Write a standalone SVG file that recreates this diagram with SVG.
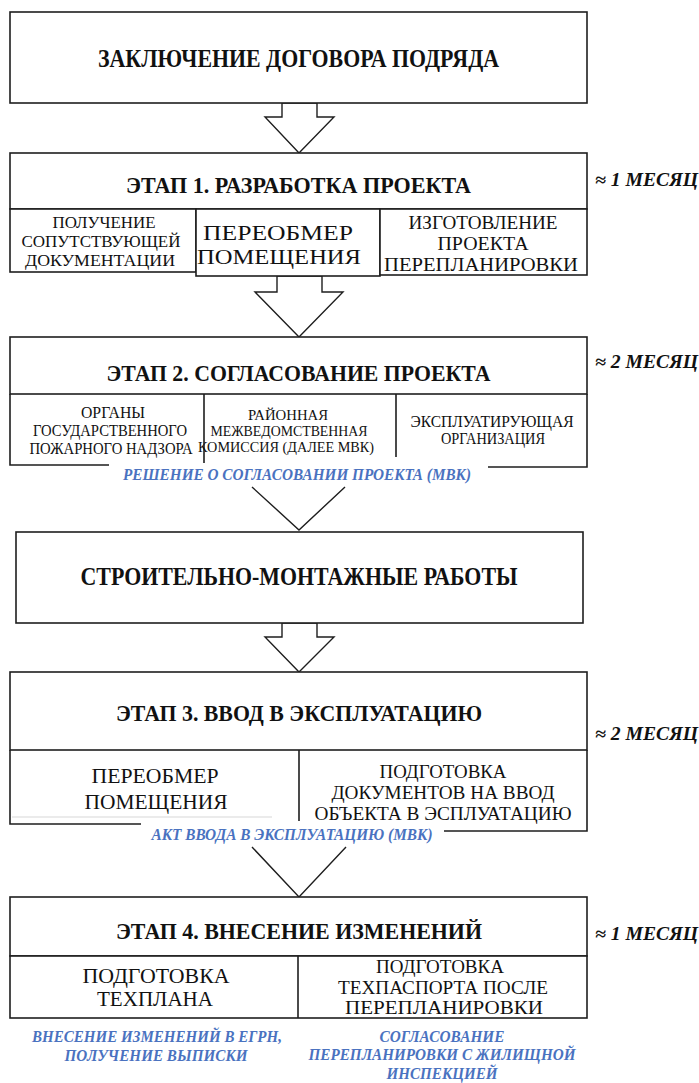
<svg xmlns="http://www.w3.org/2000/svg" width="699" height="1083" viewBox="0 0 699 1083">
<style>
.box{fill:#fff;stroke:#1e1e1e;stroke-width:1.6}
.ln{fill:none;stroke:#1e1e1e;stroke-width:1.6}
.arr{fill:#fff;stroke:#1e1e1e;stroke-width:1.4}
.v{fill:none;stroke:#1e1e1e;stroke-width:1.4}
</style>
<rect width="699" height="1083" fill="#fff"/>
<g id="connectors">
<polygon class="arr" points="282,103 317,103 317,117 334,117 299,153 265,117 282,117"/>
<polygon class="arr" points="277,276 322,276 322,292 343,292 299,337 255,292 277,292"/>
<polyline class="v" points="252,487 299,530 345,487"/>
<polygon class="arr" points="282,623 317,623 317,637 334,637 299,672 265,637 282,637"/>
<polyline class="v" points="252,847 299,897 346,847"/>
</g>
<g id="contract">
<rect class="box" x="10" y="12" width="577" height="91"/>
<text style="font-family:'Liberation Serif'" font-family="Liberation Serif" font-weight="bold" fill="#111" text-anchor="middle" x="298.5" y="67" font-size="25" textLength="401" lengthAdjust="spacingAndGlyphs">ЗАКЛЮЧЕНИЕ ДОГОВОРА ПОДРЯДА</text>
</g>
<g id="stage1">
<rect class="box" x="10" y="153" width="577" height="56"/>
<text style="font-family:'Liberation Serif'" font-family="Liberation Serif" font-weight="bold" fill="#111" text-anchor="middle" x="298.5" y="193" font-size="24" textLength="345" lengthAdjust="spacingAndGlyphs">ЭТАП 1. РАЗРАБОТКА ПРОЕКТА</text>
<text style="font-family:'Liberation Serif'" font-family="Liberation Serif" font-weight="bold" font-style="italic" fill="#111" x="595" y="186" font-size="18" textLength="103" lengthAdjust="spacingAndGlyphs">≈ 1 МЕСЯЦ</text>
</g>
<g id="s1a">
<rect class="box" x="10" y="209" width="186" height="63"/>
<text style="font-family:'Liberation Serif'" font-family="Liberation Serif" fill="#111" text-anchor="middle" x="104" y="228" font-size="17" textLength="103" lengthAdjust="spacingAndGlyphs">ПОЛУЧЕНИЕ</text>
<text style="font-family:'Liberation Serif'" font-family="Liberation Serif" fill="#111" text-anchor="middle" x="101" y="247" font-size="17" textLength="159" lengthAdjust="spacingAndGlyphs">СОПУТСТВУЮЩЕЙ</text>
<text style="font-family:'Liberation Serif'" font-family="Liberation Serif" fill="#111" text-anchor="middle" x="100" y="266" font-size="17" textLength="150" lengthAdjust="spacingAndGlyphs">ДОКУМЕНТАЦИИ</text>
</g>
<g id="s1b">
<rect class="box" x="196" y="209" width="184" height="67"/>
<text style="font-family:'Liberation Serif'" font-family="Liberation Serif" fill="#111" text-anchor="middle" x="278" y="240" font-size="22" textLength="150" lengthAdjust="spacingAndGlyphs">ПЕРЕОБМЕР</text>
<text style="font-family:'Liberation Serif'" font-family="Liberation Serif" fill="#111" text-anchor="middle" x="279" y="264" font-size="22" textLength="164" lengthAdjust="spacingAndGlyphs">ПОМЕЩЕНИЯ</text>
</g>
<g id="s1c">
<rect class="box" x="380" y="209" width="207" height="66"/>
<text style="font-family:'Liberation Serif'" font-family="Liberation Serif" fill="#111" text-anchor="middle" x="483" y="229" font-size="19" textLength="149" lengthAdjust="spacingAndGlyphs">ИЗГОТОВЛЕНИЕ</text>
<text style="font-family:'Liberation Serif'" font-family="Liberation Serif" fill="#111" text-anchor="middle" x="483" y="250" font-size="19" textLength="91" lengthAdjust="spacingAndGlyphs">ПРОЕКТА</text>
<text style="font-family:'Liberation Serif'" font-family="Liberation Serif" fill="#111" text-anchor="middle" x="481" y="271" font-size="19" textLength="194" lengthAdjust="spacingAndGlyphs">ПЕРЕПЛАНИРОВКИ</text>
</g>
<g id="stage2">
<rect class="box" x="10" y="337" width="577" height="57"/>
<text style="font-family:'Liberation Serif'" font-family="Liberation Serif" font-weight="bold" fill="#111" text-anchor="middle" x="298.5" y="381" font-size="24" textLength="384" lengthAdjust="spacingAndGlyphs">ЭТАП 2. СОГЛАСОВАНИЕ ПРОЕКТА</text>
<text style="font-family:'Liberation Serif'" font-family="Liberation Serif" font-weight="bold" font-style="italic" fill="#111" x="595" y="368" font-size="18" textLength="103" lengthAdjust="spacingAndGlyphs">≈ 2 МЕСЯЦ</text>
<path class="ln" d="M10 394 V465 H109 M488 467 H587 V394 M204 394 V463 M396 394 V457"/>
</g>
<g id="s2a">
<text style="font-family:'Liberation Serif'" font-family="Liberation Serif" fill="#111" text-anchor="middle" x="113" y="418" font-size="16" textLength="64" lengthAdjust="spacingAndGlyphs">ОРГАНЫ</text>
<text style="font-family:'Liberation Serif'" font-family="Liberation Serif" fill="#111" text-anchor="middle" x="110" y="436" font-size="16" textLength="154" lengthAdjust="spacingAndGlyphs">ГОСУДАРСТВЕННОГО</text>
<text style="font-family:'Liberation Serif'" font-family="Liberation Serif" fill="#111" text-anchor="middle" x="111" y="454" font-size="16" textLength="163" lengthAdjust="spacingAndGlyphs">ПОЖАРНОГО НАДЗОРА</text>
</g>
<g id="s2b">
<text style="font-family:'Liberation Serif'" font-family="Liberation Serif" fill="#111" text-anchor="middle" x="288" y="420" font-size="15" textLength="80" lengthAdjust="spacingAndGlyphs">РАЙОННАЯ</text>
<text style="font-family:'Liberation Serif'" font-family="Liberation Serif" fill="#111" text-anchor="middle" x="289" y="436" font-size="15" textLength="157" lengthAdjust="spacingAndGlyphs">МЕЖВЕДОМСТВЕННАЯ</text>
<text style="font-family:'Liberation Serif'" font-family="Liberation Serif" fill="#111" text-anchor="middle" x="286" y="452" font-size="15" textLength="176" lengthAdjust="spacingAndGlyphs">КОМИССИЯ (ДАЛЕЕ МВК)</text>
</g>
<g id="s2c">
<text style="font-family:'Liberation Serif'" font-family="Liberation Serif" fill="#111" text-anchor="middle" x="492" y="427" font-size="16" textLength="163" lengthAdjust="spacingAndGlyphs">ЭКСПЛУАТИРУЮЩАЯ</text>
<text style="font-family:'Liberation Serif'" font-family="Liberation Serif" fill="#111" text-anchor="middle" x="493" y="444" font-size="16" textLength="104" lengthAdjust="spacingAndGlyphs">ОРГАНИЗАЦИЯ</text>
</g>
<g id="decision2">
<text style="font-family:'Liberation Serif'" font-family="Liberation Serif" font-weight="bold" font-style="italic" fill="#4a72c0" text-anchor="middle" x="297" y="480" font-size="16" textLength="348" lengthAdjust="spacingAndGlyphs">РЕШЕНИЕ О СОГЛАСОВАНИИ ПРОЕКТА (МВК)</text>
</g>
<g id="construction">
<rect class="box" x="16" y="532" width="567" height="91"/>
<text style="font-family:'Liberation Serif'" font-family="Liberation Serif" font-weight="bold" fill="#111" text-anchor="middle" x="299" y="585" font-size="25" textLength="437" lengthAdjust="spacingAndGlyphs">СТРОИТЕЛЬНО-МОНТАЖНЫЕ РАБОТЫ</text>
</g>
<g id="stage3">
<rect class="box" x="10" y="672" width="577" height="78"/>
<text style="font-family:'Liberation Serif'" font-family="Liberation Serif" font-weight="bold" fill="#111" text-anchor="middle" x="299" y="721" font-size="24" textLength="366" lengthAdjust="spacingAndGlyphs">ЭТАП 3. ВВОД В ЭКСПЛУАТАЦИЮ</text>
<text style="font-family:'Liberation Serif'" font-family="Liberation Serif" font-weight="bold" font-style="italic" fill="#111" x="595" y="740" font-size="18" textLength="103" lengthAdjust="spacingAndGlyphs">≈ 2 МЕСЯЦ</text>
<path class="ln" d="M10 750 V824 H141 M444 831 H587 V750 M299 750 V821"/>
<path d="M12 817 H272" stroke="#d8d8d8" stroke-width="1.2" fill="none"/>
</g>
<g id="s3a">
<text style="font-family:'Liberation Serif'" font-family="Liberation Serif" fill="#111" text-anchor="middle" x="155" y="783" font-size="22" textLength="127" lengthAdjust="spacingAndGlyphs">ПЕРЕОБМЕР</text>
<text style="font-family:'Liberation Serif'" font-family="Liberation Serif" fill="#111" text-anchor="middle" x="156" y="809" font-size="22" textLength="143" lengthAdjust="spacingAndGlyphs">ПОМЕЩЕНИЯ</text>
</g>
<g id="s3b">
<text style="font-family:'Liberation Serif'" font-family="Liberation Serif" fill="#111" text-anchor="middle" x="443" y="778" font-size="19" textLength="127" lengthAdjust="spacingAndGlyphs">ПОДГОТОВКА</text>
<text style="font-family:'Liberation Serif'" font-family="Liberation Serif" fill="#111" text-anchor="middle" x="443" y="799" font-size="19" textLength="223" lengthAdjust="spacingAndGlyphs">ДОКУМЕНТОВ НА ВВОД</text>
<text style="font-family:'Liberation Serif'" font-family="Liberation Serif" fill="#111" text-anchor="middle" x="443" y="820" font-size="19" textLength="257" lengthAdjust="spacingAndGlyphs">ОБЪЕКТА В ЭСПЛУАТАЦИЮ</text>
</g>
<g id="act3">
<text style="font-family:'Liberation Serif'" font-family="Liberation Serif" font-weight="bold" font-style="italic" fill="#4a72c0" text-anchor="middle" x="292" y="840" font-size="16" textLength="281" lengthAdjust="spacingAndGlyphs">АКТ ВВОДА В ЭКСПЛУАТАЦИЮ (МВК)</text>
</g>
<g id="stage4">
<rect class="box" x="10" y="897" width="577" height="59"/>
<text style="font-family:'Liberation Serif'" font-family="Liberation Serif" font-weight="bold" fill="#111" text-anchor="middle" x="299" y="939" font-size="24" textLength="366" lengthAdjust="spacingAndGlyphs">ЭТАП 4. ВНЕСЕНИЕ ИЗМЕНЕНИЙ</text>
<text style="font-family:'Liberation Serif'" font-family="Liberation Serif" font-weight="bold" font-style="italic" fill="#111" x="595" y="940" font-size="18" textLength="103" lengthAdjust="spacingAndGlyphs">≈ 1 МЕСЯЦ</text>
<rect class="box" x="10" y="956" width="577" height="62"/>
<path class="ln" d="M298 956 V1018"/>
</g>
<g id="s4a">
<text style="font-family:'Liberation Serif'" font-family="Liberation Serif" fill="#111" text-anchor="middle" x="156" y="983" font-size="22" textLength="147" lengthAdjust="spacingAndGlyphs">ПОДГОТОВКА</text>
<text style="font-family:'Liberation Serif'" font-family="Liberation Serif" fill="#111" text-anchor="middle" x="155" y="1006" font-size="22" textLength="116" lengthAdjust="spacingAndGlyphs">ТЕХПЛАНА</text>
</g>
<g id="s4b">
<text style="font-family:'Liberation Serif'" font-family="Liberation Serif" fill="#111" text-anchor="middle" x="440" y="973" font-size="19" textLength="128" lengthAdjust="spacingAndGlyphs">ПОДГОТОВКА</text>
<text style="font-family:'Liberation Serif'" font-family="Liberation Serif" fill="#111" text-anchor="middle" x="443" y="994" font-size="19" textLength="210" lengthAdjust="spacingAndGlyphs">ТЕХПАСПОРТА ПОСЛЕ</text>
<text style="font-family:'Liberation Serif'" font-family="Liberation Serif" fill="#111" text-anchor="middle" x="444" y="1014" font-size="19" textLength="198" lengthAdjust="spacingAndGlyphs">ПЕРЕПЛАНИРОВКИ</text>
</g>
<g id="notes4">
<text style="font-family:'Liberation Serif'" font-family="Liberation Serif" font-weight="bold" font-style="italic" fill="#4a72c0" text-anchor="middle" x="157" y="1042" font-size="16" textLength="250" lengthAdjust="spacingAndGlyphs">ВНЕСЕНИЕ ИЗМЕНЕНИЙ В ЕГРН,</text>
<text style="font-family:'Liberation Serif'" font-family="Liberation Serif" font-weight="bold" font-style="italic" fill="#4a72c0" text-anchor="middle" x="156" y="1061" font-size="16" textLength="183" lengthAdjust="spacingAndGlyphs">ПОЛУЧЕНИЕ ВЫПИСКИ</text>
<text style="font-family:'Liberation Serif'" font-family="Liberation Serif" font-weight="bold" font-style="italic" fill="#4a72c0" text-anchor="middle" x="442" y="1042" font-size="16" textLength="125" lengthAdjust="spacingAndGlyphs">СОГЛАСОВАНИЕ</text>
<text style="font-family:'Liberation Serif'" font-family="Liberation Serif" font-weight="bold" font-style="italic" fill="#4a72c0" text-anchor="middle" x="442" y="1060" font-size="16" textLength="267" lengthAdjust="spacingAndGlyphs">ПЕРЕПЛАНИРОВКИ С ЖИЛИЩНОЙ</text>
<text style="font-family:'Liberation Serif'" font-family="Liberation Serif" font-weight="bold" font-style="italic" fill="#4a72c0" text-anchor="middle" x="442" y="1079" font-size="16" textLength="111" lengthAdjust="spacingAndGlyphs">ИНСПЕКЦИЕЙ</text>
</g>
</svg>
